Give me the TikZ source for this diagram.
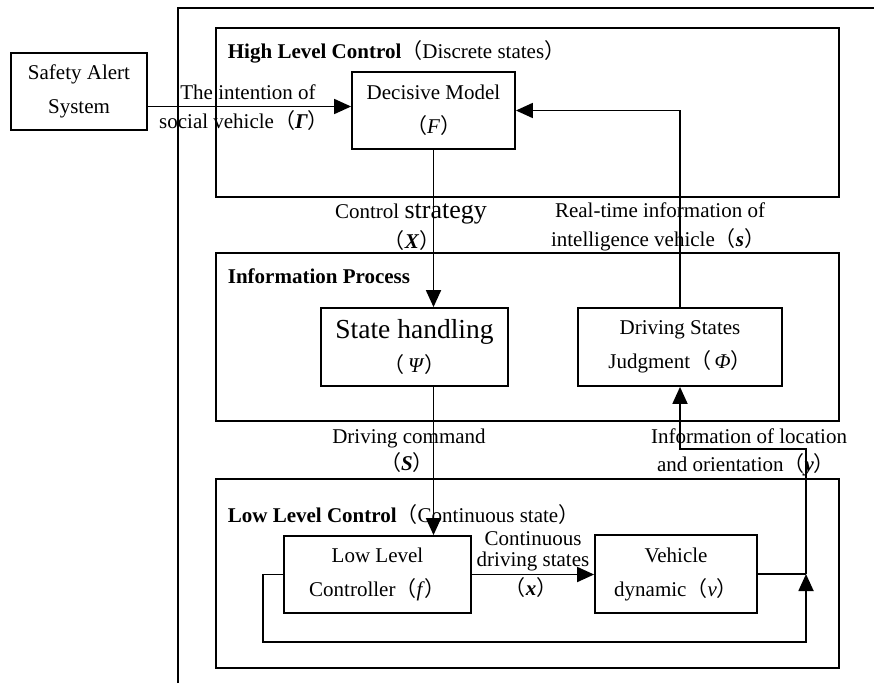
\documentclass[tikz,border=0pt]{standalone}
\usepackage{fontspec}
\setmainfont{Liberation Serif}
\newfontfamily\cjk{Noto Sans CJK SC}
\usetikzlibrary{arrows.meta,calc}
\newcommand\fwl{{\cjk （}}
\newcommand\fwr{{\cjk ）}}
\begin{document}
\begin{tikzpicture}[x=1pt,y=-1pt,line width=1.8pt,
  frame/.style={draw, inner sep=0pt, minimum width=623pt},
  blk/.style={draw, inner sep=0pt, align=center, font=\fontsize{21}{34}\selectfont},
  lbl/.style={anchor=base, inner sep=0pt, font=\fontsize{21}{25}\selectfont},
  head/.style={anchor=base west, inner sep=0pt, font=\fontsize{21}{25}\selectfont},
  arr/.style={-{Triangle[length=17pt,width=15pt]}},
  ]
\useasboundingbox (0,0) rectangle (874,683);
\draw (178,683) -- (178,8) -- (874,8);

\node[frame, minimum height=169pt] (hlc) at (527.5,112.5) {};
\node[frame, minimum height=168pt] (ipc) at (527.5,337) {};
\node[frame, minimum height=189pt] (llcf) at (527.5,573.5) {};

\node[head] (hlct) at (227,58) {\textbf{High Level Control}\fwl Discrete states\fwr};
\node[head] (ipt) at (227,283) {\textbf{Information Process}};
\node[head] (llt) at (227,522) {\textbf{Low Level Control}\fwl Continuous state\fwr};

\node[blk, minimum width=136pt, minimum height=77pt] (safety) at (79,91.5) {Safety Alert\\System};
\node[blk, minimum width=163pt, minimum height=77pt] (dec) at (433.5,110.5) {Decisive Model\\\fwl\textit{F}\fwr};
\node[blk, minimum width=187pt, minimum height=78pt] (sh) at (414.5,347) {{\fontsize{27.5}{34}\selectfont State handling}\\\fwl\,\textit{Ψ}\fwr};
\node[blk, minimum width=204pt, minimum height=78pt] (ds) at (680,347) {Driving States\\Judgment\fwl\,\textit{Φ}\fwr};
\node[blk, minimum width=187pt, minimum height=77pt] (llc) at (377.5,574.5) {Low Level\\Controller\fwl\textit{f}\fwr};
\node[blk, minimum width=162pt, minimum height=78pt] (vd) at (676,574) {Vehicle\\dynamic\fwl\textit{v}\fwr};

\coordinate (dw) at ([yshift=4pt]dec.west);
\coordinate (j) at (806,574);
\coordinate (k) at (806,449);
\coordinate (lb) at (263,642);
\coordinate (m) at (806,642);

\draw[arr] (safety.east |- dw) -- (dw);
\draw[arr] (ds.north) |- (dec.east);
\draw[arr] (dec.south) -- (dec.south |- sh.north);
\draw[arr] (dec.south |- sh.south) -- (dec.south |- llc.north);
\draw[arr] (llc.east) -- (vd.west |- llc.east);
\draw (vd.east) -- (j);
\draw[arr] (j) -- (k) -| (ds.south);
\draw[arr] (llc.west) -| (lb) -- (m) -- (j);

\node[lbl] (i1) at (248,99) {The intention of};
\node[lbl] (i2) at (244,128) {social vehicle\fwl\textbf{\textit{Γ}}\fwr};
\node[lbl] (c1) at (411,218) {Control {\fontsize{26}{26}\selectfont strategy}};
\node[lbl] (c2) at (412,248) {\fwl\textbf{\textit{X}}\fwr};
\node[lbl] (r1) at (660,217) {Real-time information of};
\node[lbl] (r2) at (658,246) {intelligence vehicle\fwl\textbf{\textit{s}}\fwr};
\node[lbl] (d1) at (409,443) {Driving command};
\node[lbl] (d2) at (407,470) {\fwl\textbf{\textit{S}}\fwr};
\node[lbl] (o1) at (749,443) {Information of location};
\node[lbl] (o2) at (746,471) {and orientation\fwl\textbf{\textit{y}}\fwr};
\node[lbl] (x1) at (533,545) {Continuous};
\node[lbl] (x2) at (533,566) {driving states};
\node[lbl] (x3) at (531,595) {\fwl\textbf{\textit{x}}\fwr};
\end{tikzpicture}
\end{document}
